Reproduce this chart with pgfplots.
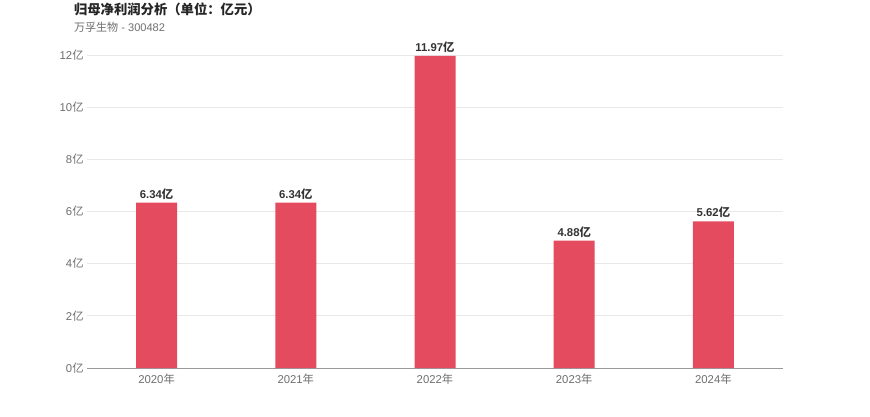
\documentclass[border=0pt]{standalone}
\usepackage{pgfplots}
\pgfplotsset{compat=1.18}
\usepackage{fontspec}
\setmainfont{Liberation Sans}
\newfontfamily\cjk{Noto Sans CJK SC}
\definecolor{barred}{HTML}{E54B5E}
\definecolor{ticktxt}{HTML}{6E6E6E}
\definecolor{gridc}{HTML}{E8E8E8}
\definecolor{axisc}{HTML}{9A9A9A}
\begin{document}
\begin{tikzpicture}
\useasboundingbox (0,0) rectangle (652.5pt,-312.75pt);
\node[anchor=west,font=\cjk\bfseries\fontsize{10pt}{12pt}\selectfont,text=black!85] at (52pt,-7pt) {归母净利润分析（单位：亿元）};
\node[anchor=west,font=\fontsize{8.3pt}{10pt}\selectfont,text=ticktxt] at (52pt,-20.5pt) {{\cjk 万孚生物} - 300482};
\begin{axis}[
    at={(65.25pt,-276pt)}, anchor=south west,
    scale only axis, width=522pt, height=234.75pt,
    ybar, bar width=30.75pt,
    xmin=-0.5, xmax=4.5, ymin=0, ymax=12,
    xtick=data,
    xticklabels={2020{\cjk 年},2021{\cjk 年},2022{\cjk 年},2023{\cjk 年},2024{\cjk 年}},
    ytick={0,2,4,6,8,10,12},
    yticklabel={\pgfmathprintnumber{\tick}{\cjk 亿}},
    /pgf/number format/assume math mode=true,
    tick style={draw=none},
    ymajorgrids, grid style={draw=gridc, line width=0.6pt},
    axis lines*=left,
    y axis line style={draw=none},
    x axis line style={draw=axisc, line width=0.7pt, -},
    ticklabel style={font=\fontsize{8.5pt}{10pt}\selectfont, text=ticktxt},
    yticklabel style={xshift=1pt},
    xticklabel style={yshift=3pt},
    nodes near coords={\pgfmathprintnumber[fixed,precision=2,fixed zerofill]{\pgfplotspointmeta}{\cjk 亿}},
    nodes near coords style={font=\bfseries\fontsize{8.5pt}{10pt}\selectfont, text=black!80, yshift=-1pt},
]
\addplot[fill=barred, draw=none] coordinates {(0,6.34) (1,6.34) (2,11.97) (3,4.88) (4,5.62)};
\end{axis}
\end{tikzpicture}
\end{document}
